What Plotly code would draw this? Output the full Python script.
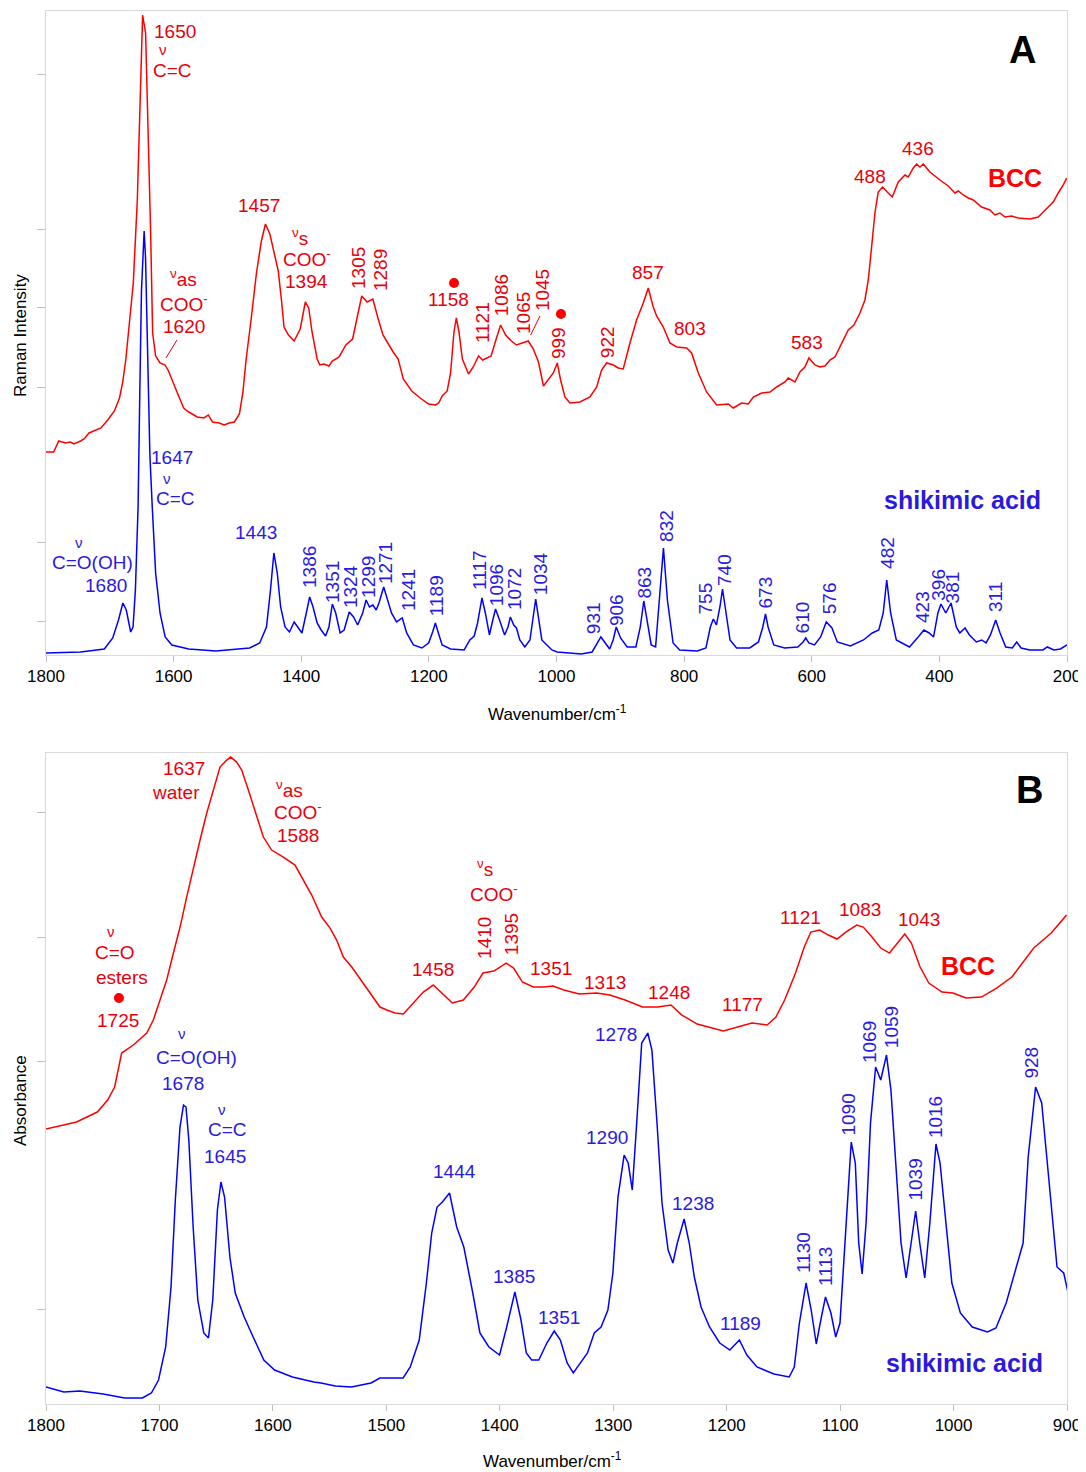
import plotly.graph_objects as go

# ---------------- DATA ----------------
# Panel A: Raman, BCC (red)
bcc_raman_wn = [1800, 1788, 1780, 1769.5, 1761.6, 1756.3, 1745.7, 1740.4, 1732.5, 1721.9, 1713.9, 1703.3,
                1692.8, 1684.8, 1680, 1675, 1671, 1663.2, 1656.9, 1652.8, 1648.6, 1643.9, 1639.7, 1636,
                1632.9, 1628.2, 1621.3, 1613.4, 1608, 1600.1, 1592.2, 1584.2, 1579, 1571, 1563.1, 1552.5,
                1545.6, 1539.2, 1528.6, 1520.7, 1512.8, 1504.8, 1496.9, 1491.6, 1486.3, 1478.3, 1470.4,
                1462.5, 1456.1, 1449.2, 1442.9, 1436, 1430.7, 1427, 1420.1, 1411.1, 1401.6, 1393.6, 1388.3,
                1383.1, 1375.1, 1370.9, 1364.5, 1356.6, 1351.3, 1340.7, 1330.1, 1319.5, 1312.6, 1305.2,
                1296.8, 1287.8, 1279.8, 1271.9, 1256, 1248.1, 1240.1, 1226.9, 1213.7, 1200.4, 1189.8,
                1184.5, 1179.2, 1171.3, 1166, 1160.7, 1157, 1152.8, 1147.5, 1137.9, 1130.5, 1122.1,
                1115.7, 1102.5, 1094.5, 1087.6, 1079.7, 1070.7, 1062.8, 1054.8, 1044.2, 1036.3, 1028.3,
                1020.4, 1012.9, 1005, 998.8, 993.6, 986.8, 979, 963.3, 947.6, 937.1, 929.3, 921.5, 911,
                903.2, 895.4, 884.9, 874.5, 864, 856.2, 848.4, 843.1, 832.7, 822.2, 811.8, 796.1, 788.3,
                777.8, 764.8, 749.1, 730.8, 723, 709.9, 699.5, 691.6, 678.6, 665.5, 655.1, 642, 636.8,
                626.3, 618.5, 610.7, 604.4, 595, 587.2, 579.3, 571.5, 563.7, 553.2, 542.8, 533.9, 524.5,
                516.7, 511.4, 506.2, 501, 495.8, 489, 481.7, 473.8, 464.4, 453.9, 448.8, 440.9, 435.7,
                430.5, 425.2, 414.8, 399.1, 386.1, 375.6, 370.4, 362.6, 354.7, 346.9, 333.9, 320.8, 313,
                305.1, 297.3, 286.8, 276.4, 258.1, 245.1, 237.2, 226.8, 221.6, 213.7, 205.9, 200.5]
bcc_raman_int = [203, 203, 214, 212, 213, 211, 214, 216, 222, 225, 227, 235,
                 244, 257, 272, 295, 322, 372, 455, 555, 640, 622, 522, 422,
                 322, 299, 292, 290, 284, 271, 259, 247, 244, 241, 238, 237,
                 240, 233, 232, 230, 232, 233, 241, 262, 296, 337, 381,
                 414, 431, 421, 404, 384, 353, 328, 320, 314, 326, 353, 347,
                 323, 296, 290, 291, 289, 294, 298, 310, 316, 337, 359,
                 353, 356, 337, 320, 303, 296, 276, 264, 257, 251, 250,
                 252, 259, 264, 282, 323, 337, 323, 296, 281, 288, 299,
                 295, 299, 316, 330, 320, 314, 310, 312, 314, 306, 293,
                 269, 275, 282, 292, 275, 258, 252, 253, 258, 268, 285, 292, 290,
                 287, 286, 312, 335, 352, 367, 348, 339, 328, 312, 308, 307, 302,
                 282, 263, 250, 251, 247, 252, 251, 258, 262, 263, 268, 273, 277,
                 273, 283, 288, 297, 290, 288, 289, 295, 298, 312, 325, 330, 342,
                 355, 375, 408, 442, 463, 468, 463, 458, 473, 480, 478, 487, 491,
                 488, 491, 483, 475, 469, 462, 464, 460, 457, 455, 448, 445, 440,
                 442, 438, 439, 437, 436, 438, 443, 450, 453, 462, 470, 477]

# Panel A: Raman, shikimic acid (blue)
sa_raman_wn = [1800, 1745.7, 1708.6, 1695.4, 1686.4, 1679.5, 1674.2, 1667.3, 1663.6, 1659.9, 1655.7, 1654.6,
               1653, 1650.4, 1646.2, 1644, 1640.9, 1637.2, 1633.5, 1628.2, 1621.3, 1613.3, 1602.8,
               1576.3, 1534, 1481, 1465.1, 1454.5, 1448.2, 1442.9, 1437.6, 1432.3, 1425.4, 1418.5, 1411.1,
               1404.2, 1398.9, 1392.1, 1386.8, 1381.5, 1375.1, 1368.8, 1361.9, 1356.6, 1351.3, 1346,
               1339.1, 1332.8, 1324.8, 1318, 1311.6, 1303.7, 1298.4, 1293.1, 1287.8, 1282.5, 1278.2,
               1270.8, 1265, 1258.6, 1250.7, 1241.7, 1234.8, 1224.2, 1211, 1200.4, 1194.1, 1189.8,
               1185.6, 1179.2, 1166, 1144.8, 1135.8, 1129, 1123.7, 1116.8, 1111.5, 1105.1, 1100.9,
               1095.6, 1089.3, 1081.3, 1076, 1072.3, 1067, 1062.8, 1057.5, 1049.6, 1041.6, 1036.3,
               1032.6, 1028.4, 1023, 1015.1, 1007.2, 999, 961.3, 944.2, 935.9, 930.4, 923.6, 916.7,
               911.2, 906.4, 899.6, 889.3, 875.6, 868.7, 863.2, 857.7, 851.6, 844.7, 838.5, 832.4,
               826.2, 817.3, 807, 779.5, 765.8, 758.9, 754.2, 749.4, 743.9, 739.8, 735, 728.1, 717.8,
               697.2, 683.5, 676.7, 672.5, 668.4, 659.5, 642.4, 621.8, 613.6, 609.4, 604.6, 595.7,
               586.1, 577.2, 568.3, 560, 539.5, 518.9, 505.2, 494.9, 488, 482.5, 476.4, 467.5, 446.9,
               433.2, 424.3, 416, 409.1, 402.3, 397.5, 390, 381.7, 373.5, 368, 359.8, 352.9, 342,
               333.7, 326.8, 320, 311.7, 304.9, 296, 285.7, 278.8, 272, 258.3, 237.7, 230.9, 220.5,
               210.3, 200]
sa_raman_int = [2, 3, 6, 17, 35, 52, 45, 23, 28, 65, 148, 181,
                262, 364, 424, 397, 296, 200, 148, 82, 42, 18, 10,
                6, 4, 7, 12, 28, 65, 102, 82, 48, 28, 23, 33,
                27, 22, 42, 58, 48, 32, 25, 19, 28, 51, 42,
                22, 25, 43, 38, 30, 42, 55, 48, 50, 45, 52,
                68, 55, 42, 33, 37, 22, 10, 7, 12, 23, 32,
                23, 10, 6, 5, 15, 19, 32, 57, 42, 20, 32,
                46, 35, 20, 28, 38, 30, 27, 15, 8, 15, 42,
                56, 38, 15, 10, 5, 3, 1, 3, 12, 18, 12, 6,
                15, 28, 17, 8, 8, 28, 54, 32, 10, 8, 55, 107,
                55, 12, 5, 4, 7, 28, 36, 30, 48, 66, 45, 15, 7,
                7, 13, 28, 41, 28, 10, 7, 8, 13, 17, 12, 10,
                18, 33, 27, 13, 9, 15, 22, 25, 42, 75, 42, 15, 8,
                18, 25, 22, 18, 42, 51, 42, 52, 28, 22, 27, 20, 13,
                15, 12, 20, 35, 22, 8, 7, 13, 7, 5, 5, 8, 5,
                6, 10]

# Panel B: FTIR, BCC (red)
bcc_ir_wn = [1800, 1785.3, 1773.1, 1763.9, 1754.8, 1745.6, 1739.5, 1733.3, 1723, 1711.2, 1705.4, 1699.5,
             1693.6, 1687.7, 1681.8, 1676, 1670.1, 1664.2, 1658.3, 1652.5, 1646.6, 1640.7, 1637.2, 1631.9,
             1627.5, 1621.6, 1614.3, 1608.4, 1601.1, 1590.8, 1580.5, 1573.1, 1565.8, 1557, 1549.6, 1543.8,
             1537.9, 1530.5, 1523.2, 1514.4, 1505.6, 1499.7, 1492.3, 1485, 1477.7, 1467.4, 1458.6, 1451.4,
             1441.8, 1432.1, 1422.5, 1414.8, 1405.2, 1394.4, 1387.8, 1380.1, 1370.5, 1360.9, 1353.1,
             1343.5, 1330, 1314.6, 1303, 1289.6, 1274.2, 1260.7, 1249.1, 1239.5, 1226, 1202.9, 1189.4,
             1177.8, 1164.3, 1156.6, 1148.9, 1139.3, 1131.6, 1125.8, 1118.1, 1110.4, 1102.7, 1095,
             1085.4, 1079.6, 1071.9, 1064.2, 1056.5, 1048.8, 1043, 1037.2, 1029.5, 1021.8, 1010.2,
             1000.6, 989, 975.5, 962, 948.6, 929.3, 913.9, 900.4]
bcc_ir_abs = [275, 279, 282, 287, 292, 304, 317, 351, 359, 371, 384, 404,
              424, 451, 477, 507, 537, 564, 591, 614, 637, 644, 647, 642,
              634, 614, 587, 567, 554, 547, 539, 524, 509, 487, 476, 464,
              447, 437, 425, 411, 397, 394, 391, 390, 399, 412, 419, 411,
              401, 404, 417, 431, 433, 441, 436, 422, 417, 417, 418,
              414, 410, 411, 409, 404, 397, 397, 399, 389, 380, 373, 377,
              381, 379, 387, 404, 431, 457, 472, 474, 469, 465, 472,
              479, 477, 467, 456, 451, 462, 470, 461, 437, 421, 412,
              411, 406, 407, 416, 427, 456, 471, 489]

# Panel B: FTIR, shikimic acid (blue)
sa_ir_wn = [1800, 1784.3, 1770.1, 1749.6, 1730.7, 1715, 1707.1, 1700.8, 1694.5, 1689.8, 1686, 1681.9,
            1678.8, 1676.6, 1674.1, 1670.3, 1666.2, 1660.9, 1656.8, 1653, 1648.9, 1645.8, 1642.6, 1637.9,
            1633.2, 1625.3, 1617.4, 1608, 1598.5, 1582.8, 1563.9, 1557.6, 1545, 1530.8, 1513.5, 1505.7,
            1485.2, 1478.9, 1471, 1464.7, 1460, 1455.3, 1450.6, 1444.3, 1438, 1431.7, 1423.8, 1417.5,
            1409.6, 1400.2, 1393.9, 1386.7, 1381.3, 1376.6, 1371.9, 1365.6, 1358.5, 1352, 1346.6,
            1340.6, 1335.2, 1328.6, 1322.7, 1316.7, 1310.7, 1304.7, 1300.3, 1295.8, 1290.4, 1286.8,
            1283.2, 1279.3, 1274.9, 1269.5, 1265.9, 1261.4, 1257, 1251.6, 1247.4, 1243.5, 1237.5,
            1233, 1228.5, 1222.6, 1215.1, 1206.1, 1197.2, 1188.8, 1182.2, 1173.3, 1158.3, 1144.9,
            1140.4, 1135.9, 1130, 1125.5, 1121, 1116.5, 1112.9, 1108.1, 1103.9, 1100.1, 1095.6,
            1090.2, 1086.6, 1083.6, 1080.6, 1077.1, 1073.2, 1068.7, 1064.2, 1059.1, 1055.2, 1050.8,
            1046.3, 1041.8, 1037.3, 1033.4, 1029.8, 1025.4, 1020.9, 1015.5, 1011.9, 1007.4, 1001.5,
            994, 983.5, 970.1, 962.6, 953.6, 944.7, 938.7, 934.2, 927.7, 922.3, 917.8, 913.3, 908.8,
            902.9, 899]
sa_ir_abs = [17, 12, 13, 10, 6, 6, 11, 24, 57, 117, 204, 277,
             299, 297, 264, 177, 104, 71, 66, 104, 194, 222, 207, 147,
             111, 87, 67, 44, 34, 27, 22, 21, 18, 17, 21, 26,
             26, 37, 64, 121, 171, 197, 202, 211, 177, 157, 111, 71,
             57, 49, 77, 112, 84, 51, 44, 44, 61, 73, 64,
             41, 31, 41, 51, 71, 77, 94, 131, 207, 249, 241,
             214, 281, 361, 371, 354, 281, 201, 154, 141, 161, 185,
             161, 127, 97, 77, 61, 54, 64, 49, 37, 30, 27,
             37, 81, 121, 94, 60, 87, 107, 91, 67, 81, 164,
             262, 241, 161, 130, 181, 281, 337, 324, 349, 314, 241,
             161, 126, 164, 193, 161, 126, 181, 260, 241, 187, 121,
             91, 77, 72, 76, 101, 137, 161, 247, 317, 301, 247, 197, 137,
             131, 111]

# Axis ticks
xticks_A = [1800, 1600, 1400, 1200, 1000, 800, 600, 400, 200]
xticks_B = [1800, 1700, 1600, 1500, 1400, 1300, 1200, 1100, 1000, 900]
yticks_A = [33, 112, 267, 347, 425, 581]
yticks_B = [95, 343, 467, 592]

# Peak labels: (text, wavenumber, intensity, angle)
labels_A_red = [("1650", 1598, 624, 0), ("C=C", 1601, 585, 0), ("1457", 1466, 450, 0),
                ("<sup>ν</sup>s", 1402, 418, 0), ("COO<sup>-</sup>", 1391, 397, 0), ("1394", 1391, 373, 0),
                ("<sup>ν</sup>as", 1584, 377, 0), ("COO<sup>-</sup>", 1584, 352, 0), ("1620", 1584, 328, 0),
                ("1305", 1309.5, 387, -90), ("1289", 1275, 385, -90), ("1158", 1170, 355, 0),
                ("1121", 1115, 332, -90), ("1086", 1085, 360, -90), ("1065", 1051, 342, -90),
                ("1045", 1021, 365, -90), ("999", 996, 312, -90), ("922", 919, 313, -90),
                ("857", 857, 382, 0), ("803", 791, 326, 0), ("583", 607, 312, 0), ("488", 509, 479, 0),
                ("436", 433.5, 507, 0)]
nu_A_red = [(1617, 606)]
labels_A_blue = [("1647", 1602.6, 197, 0), ("C=C", 1597.8, 156, 0), ("C=O(OH)", 1727, 92, 0),
                 ("1680", 1706, 69, 0), ("1443", 1471, 122, 0), ("1386", 1386.3, 88, -90),
                 ("1351", 1350.3, 73, -90), ("1324", 1322, 68, -90), ("1299", 1294, 78, -90),
                 ("1271", 1267, 92, -90), ("1241", 1231, 65, -90), ("1189", 1187, 59, -90),
                 ("1117", 1120, 85, -90), ("1096", 1093, 70, -90), ("1072", 1065, 66, -90),
                 ("1034", 1024, 81, -90), ("931", 941, 37, -90), ("906", 905, 45, -90),
                 ("863", 862, 72, -90), ("832", 827, 129, -90), ("755", 765, 57, -90),
                 ("740", 736, 85, -90), ("673", 672.5, 63, -90), ("610", 613, 38, -90),
                 ("576", 571, 57, -90), ("482", 480.6, 102, -90), ("423", 425.7, 48, -90),
                 ("396", 401, 70, -90), ("381", 378, 68, -90), ("311", 311.3, 58, -90)]
nu_A_blue = [(1610.4, 176), (1748.3, 112)]
labels_B_red = [("1637", 1678.4, 636, 0), ("water", 1685.4, 612, 0), ("<sup>ν</sup>as", 1585.8, 615, 0),
                ("COO<sup>-</sup>", 1578, 593, 0), ("1588", 1578, 569, 0), ("C=O", 1739, 452, 0),
                ("esters", 1733, 427, 0), ("1725", 1736.5, 384, 0), ("1458", 1459, 435, 0),
                ("<sup>ν</sup>s", 1413, 536, 0), ("COO<sup>-</sup>", 1405, 511, 0), ("1410", 1414, 466, -90),
                ("1395", 1390, 470, -90), ("1351", 1355, 436, 0), ("1313", 1307, 422, 0),
                ("1248", 1251, 412, 0), ("1177", 1186, 400, 0), ("1121", 1134.5, 487, 0),
                ("1083", 1082.5, 495, 0), ("1043", 1030.4, 485, 0)]
nu_B_red = [(1742.7, 473)]
labels_B_blue = [("C=O(OH)", 1667, 347, 0), ("1678", 1679.2, 321, 0), ("C=C", 1639.6, 275, 0),
                 ("1645", 1642.2, 248, 0), ("1444", 1439.5, 233, 0), ("1385", 1387.5, 128, 0),
                 ("1351", 1347.8, 87, 0), ("1278", 1297.5, 370, 0), ("1290", 1305.5, 267, 0),
                 ("1238", 1230, 201, 0), ("1189", 1188, 81, 0), ("1130", 1132.7, 151, -90),
                 ("1113", 1113.3, 137, -90), ("1090", 1092.6, 289, -90), ("1069", 1074.5, 362, -90),
                 ("1059", 1055, 377, -90), ("1039", 1034.4, 224, -90), ("1016", 1016.3, 287, -90),
                 ("928", 931.3, 342, -90)]
nu_B_blue = [(1680.1, 371), (1644.9, 295)]

# marked bands (red dots)
dots_A = ([1160.6, 993], [372, 341])
dots_B = ([1735.7], [406])

# ---------------- FIGURE ----------------
RED = "#FF0000"
RED_T = "#E8000B"
BLUE = "#0000FF"
BLUE_T = "#2A1AE0"
FONT = "Liberation Sans, Arial, sans-serif"

fig = go.Figure()
fig.add_trace(go.Scatter(x=bcc_raman_wn, y=bcc_raman_int, mode="lines",
                         line=dict(color=RED, width=1.5), xaxis="x", yaxis="y"))
fig.add_trace(go.Scatter(x=sa_raman_wn, y=sa_raman_int, mode="lines",
                         line=dict(color=BLUE, width=1.5), xaxis="x", yaxis="y"))
fig.add_trace(go.Scatter(x=bcc_ir_wn, y=bcc_ir_abs, mode="lines",
                         line=dict(color=RED, width=1.5), xaxis="x2", yaxis="y2"))
fig.add_trace(go.Scatter(x=sa_ir_wn, y=sa_ir_abs, mode="lines",
                         line=dict(color=BLUE, width=1.5), xaxis="x2", yaxis="y2"))
fig.add_trace(go.Scatter(x=dots_A[0], y=dots_A[1], mode="markers",
                         marker=dict(color=RED, size=10), xaxis="x", yaxis="y"))
fig.add_trace(go.Scatter(x=dots_B[0], y=dots_B[1], mode="markers",
                         marker=dict(color=RED, size=10), xaxis="x2", yaxis="y2"))

ann = []


def add_labels(items, color, xr, yr, size=19):
    for t, x, y, a in items:
        ann.append(dict(text=t, x=x, y=y, xref=xr, yref=yr, showarrow=False, textangle=a,
                        xanchor="center", yanchor="middle",
                        font=dict(family=FONT, size=size, color=color)))


def add_nu(items, color, xr, yr):
    for x, y in items:
        ann.append(dict(text="ν", x=x, y=y, xref=xr, yref=yr, showarrow=False,
                        xanchor="center", yanchor="middle",
                        font=dict(family=FONT, size=15, color=color)))


add_labels(labels_A_red, RED_T, "x", "y")
add_nu(nu_A_red, RED_T, "x", "y")
add_labels(labels_A_blue, BLUE_T, "x", "y")
add_nu(nu_A_blue, BLUE_T, "x", "y")
add_labels(labels_B_red, RED_T, "x2", "y2")
add_nu(nu_B_red, RED_T, "x2", "y2")
add_labels(labels_B_blue, BLUE_T, "x2", "y2")
add_nu(nu_B_blue, BLUE_T, "x2", "y2")


def add_text(t, x, y, xr, yr, size, color, angle=0):
    ann.append(dict(text=t, x=x, y=y, xref=xr, yref=yr, showarrow=False, textangle=angle,
                    xanchor="center", yanchor="middle",
                    font=dict(family=FONT, size=size, color=color)))


# sample names and panel letters
add_text("<b>BCC</b>", 281.5, 477, "x", "y", 25, RED)
add_text("<b>shikimic acid</b>", 363, 155, "x", "y", 25, BLUE_T)
add_text("<b>BCC</b>", 987, 438, "x2", "y2", 25, RED)
add_text("<b>shikimic acid</b>", 990, 41, "x2", "y2", 25, BLUE_T)
add_text("<b>A</b>", 270.5, 605, "x", "y", 38, "black")
add_text("<b>B</b>", 933.5, 614, "x2", "y2", 38, "black")

# axis titles
add_text("Raman Intensity", -0.0255, 0.7674, "paper", "paper", 17, "black", -90)
add_text("Absorbance", -0.0255, 0.2182, "paper", "paper", 17, "black", -90)
add_text("Wavenumber/cm<sup>-1</sup>", 0.5005, 0.496, "paper", "paper", 17, "black")
add_text("Wavenumber/cm<sup>-1</sup>", 0.4956, -0.0402, "paper", "paper", 17, "black")

shapes = [
    dict(type="line", xref="x", yref="y", x0=1594.7, y0=315, x1=1612, y1=297,
         line=dict(color=RED_T, width=1)),
    dict(type="line", xref="x", yref="y", x0=1025.9, y0=339, x1=1040.5, y1=320,
         line=dict(color=RED_T, width=1)),
]

axis_common = dict(showline=True, linecolor="#D9D9D9", linewidth=1, mirror=True, showgrid=False,
                   zeroline=False, ticks="outside", tickcolor="#BFBFBF")

# page body has an 8px margin: margins compensate so the plot areas land in place
fig.update_layout(
    width=1078, height=1464,
    margin=dict(l=38, r=19, t=3, b=68),
    plot_bgcolor="white", paper_bgcolor="white", showlegend=False,
    xaxis=dict(domain=[0, 1], anchor="y", range=[1800, 200], tickvals=xticks_A, ticklen=6,
               ticklabeloverflow="allow",
               tickfont=dict(family=FONT, size=17, color="black"), **axis_common),
    yaxis=dict(domain=[0.5377, 1.0], anchor="x", range=[0, 644], tickvals=yticks_A,
               showticklabels=False, ticklen=8, **axis_common),
    xaxis2=dict(domain=[0, 1], anchor="y2", range=[1800, 900], tickvals=xticks_B, ticklen=6,
                ticklabeloverflow="allow",
                tickfont=dict(family=FONT, size=17, color="black"), **axis_common),
    yaxis2=dict(domain=[0, 0.4673], anchor="x2", range=[0, 651], tickvals=yticks_B,
                showticklabels=False, ticklen=8, **axis_common),
    annotations=ann, shapes=shapes,
)

fig.write_html("out.html")
